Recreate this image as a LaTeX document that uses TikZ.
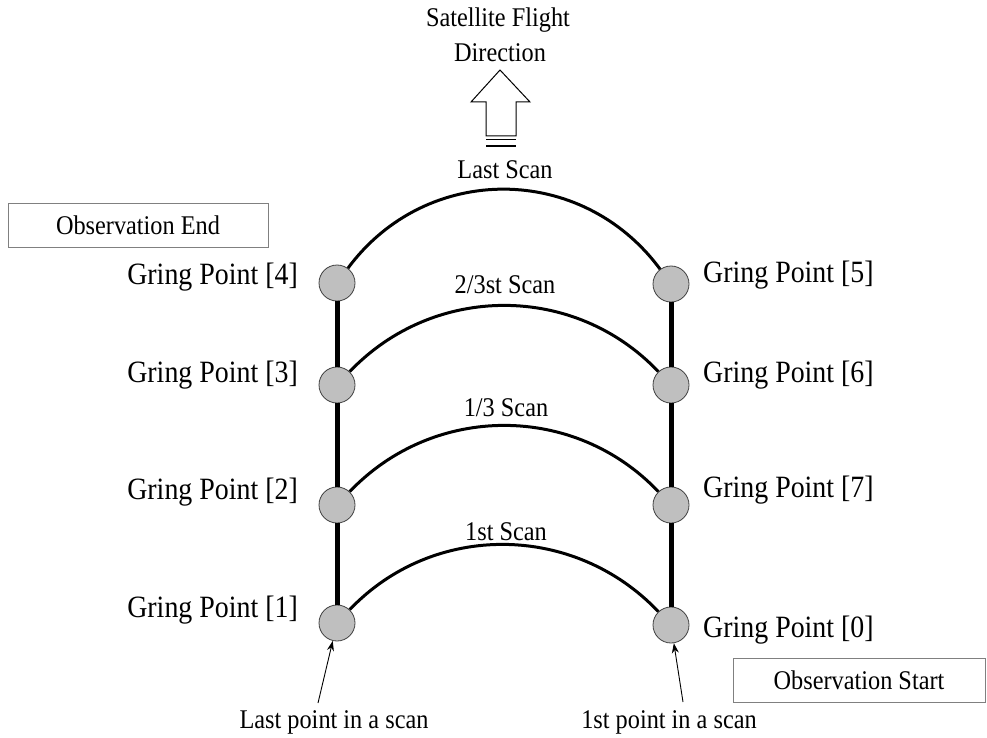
\documentclass[tikz,border=0pt]{standalone}
\usepackage{fontspec}
\setmainfont{Liberation Serif}[FakeStretch=0.9]
\usetikzlibrary{arrows.meta}
\begin{document}
\begin{tikzpicture}[x=1pt,y=-1pt,
  gp/.style={circle,draw=black!75,line width=0.8pt,fill=black!25,minimum size=36pt,inner sep=0pt},
  big/.style={font=\fontsize{31}{36}\selectfont,inner sep=0pt},
  small/.style={font=\fontsize{27}{32}\selectfont,inner sep=0pt},
  scan/.style={line width=3pt},
  col/.style={line width=5pt},
  box/.style={draw=black!50,line width=1pt,inner sep=0pt,font=\fontsize{27}{32}\selectfont},
  ptr/.style={line width=0.9pt,-{Stealth[length=10pt,width=7pt]}}]
\useasboundingbox (0,0) rectangle (987,738);

% grid points
\node[gp] (p4) at (337,283) {};
\node[gp] (p3) at (337,385) {};
\node[gp] (p2) at (337,505) {};
\node[gp] (p1) at (337,623) {};
\node[gp] (p5) at (671,284) {};
\node[gp] (p6) at (671,385) {};
\node[gp] (p7) at (671,505) {};
\node[gp] (p0) at (671,625) {};

% point labels
\node[big,anchor=east] (l4) at (298,277) {Gring Point [4]};
\node[big,anchor=east] (l3) at (298,375) {Gring Point [3]};
\node[big,anchor=east] (l2) at (298,492) {Gring Point [2]};
\node[big,anchor=east] (l1) at (298,610) {Gring Point [1]};
\node[big,anchor=west] (l5) at (703,275) {Gring Point [5]};
\node[big,anchor=west] (l6) at (703,375) {Gring Point [6]};
\node[big,anchor=west] (l7) at (703,490) {Gring Point [7]};
\node[big,anchor=west] (l0) at (703,630) {Gring Point [0]};

% columns
\draw[col] (p4) -- (p3) (p3) -- (p2) (p2) -- (p1);
\draw[col] (p5) -- (p6) (p6) -- (p7) (p7) -- (p0);

% scans
\draw[scan] (p4) to[out=53.6,in=126.4,distance=131.8] (p5);
\draw[scan] (p3) to[out=46.5,in=133.5,distance=121.8] (p6);
\draw[scan] (p2) to[out=46.5,in=133.5,distance=121.8] (p7);
\draw[scan] (p1) to[out=46.5,in=133.5,distance=121.8] (p0);

\node[small] (sLast) at (505,170) {Last Scan};
\node[small] (sTwo) at (505,285) {2/3st Scan};
\node[small] (sOne) at (506,408) {1/3 Scan};
\node[small] (sFirst) at (506,532) {1st Scan};

% boxes
\node[box,minimum width=260pt,minimum height=44pt] (obsEnd) at (138,225) {Observation End};
\node[box,minimum width=252pt,minimum height=44pt] (obsStart) at (859,680) {Observation Start};

% flight direction arrow
\node[small] (sat1) at (498,20) {Satellite Flight};
\node[small] (sat2) at (500,53) {Direction};
\draw[line width=1pt,line join=miter] (486,136) -- (486,102) -- (471,102) -- (500,70) -- (530,102) -- (516,102) -- (516,136) -- cycle;
\draw[line width=0.8pt] (486,139.5) -- (516,139.5);
\draw[line width=2pt] (486,146) -- (516,146);

% bottom pointers
\node[small] (lastpt) at (334,722) {Last point in a scan};
\node[small] (firstpt) at (669,722) {1st point in a scan};
\coordinate (tl) at (318,703);
\coordinate (tr) at (683,702);
\draw[ptr] (tl) -- (p1);
\draw[ptr] (tr) -- (p0);
\end{tikzpicture}
\end{document}
